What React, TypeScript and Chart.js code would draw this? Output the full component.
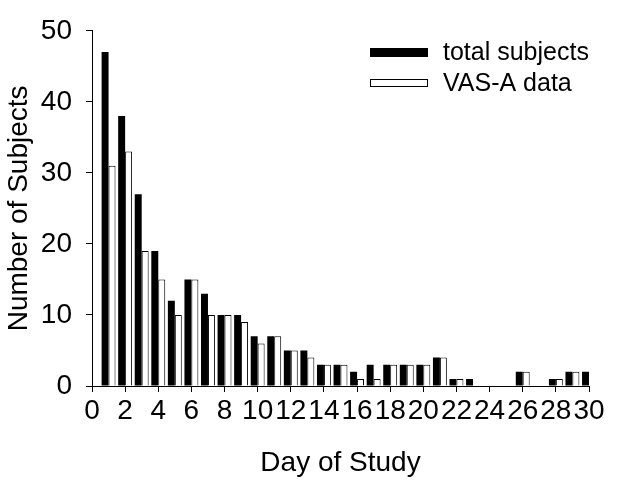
import React, { useEffect, useRef } from "react";
import { Chart, registerables } from "chart.js";

Chart.register(...registerables);

const days = [1, 2, 3, 4, 5, 6, 7, 8, 9, 10, 11, 12, 13, 14, 15, 16, 17, 18, 19, 20, 21, 22, 23, 24, 25, 26, 27, 28, 29, 30];
const totalSubjects = [47, 38, 27, 19, 12, 15, 13, 10, 10, 7, 7, 5, 5, 3, 3, 2, 3, 3, 3, 3, 4, 1, 1, 0, 0, 2, 0, 1, 2, 2];
const vasAData = [31, 33, 19, 15, 10, 15, 10, 10, 9, 6, 7, 5, 4, 3, 3, 1, 1, 3, 3, 3, 4, 1, 0, 0, 0, 2, 0, 1, 2, 0];
const seriesLabels = ["total subjects", "VAS-A data"];
const xTitle = "Day of Study";
const yTitle = "Number of Subjects";

const FONT = "'Liberation Sans', Arial, Helvetica, sans-serif";

const legendPlugin = {
  id: "customLegend",
  afterDraw(chart: any) {
    const ctx = chart.ctx;
    const boxX = 370;
    const boxW = 58;
    const rows = [
      { y: 52.5, h: 9 },
      { y: 83, h: 8 },
    ];
    ctx.save();
    ctx.font = `25px ${FONT}`;
    ctx.textBaseline = "middle";
    ctx.textAlign = "left";
    chart.data.datasets.forEach((ds: any, i: number) => {
      const r = rows[i];
      const top = r.y - r.h / 2;
      ctx.fillStyle = ds.backgroundColor;
      ctx.fillRect(boxX, top, boxW, r.h);
      if (ds.borderWidth) {
        ctx.strokeStyle = "#000";
        ctx.lineWidth = 1;
        ctx.strokeRect(boxX + 0.5, top + 0.5, boxW - 1, r.h - 1);
      }
      ctx.fillStyle = "#000";
      ctx.fillText(ds.label, 443, r.y + 1);
    });
    ctx.restore();
  },
};

export default function App() {
  const ref = useRef<HTMLCanvasElement | null>(null);

  useEffect(() => {
    document.body.style.margin = "0";
    const canvas = ref.current;
    if (!canvas) return;
    const chart = new Chart(canvas, {
      type: "bar",
      data: {
        datasets: [
          {
            label: seriesLabels[0],
            data: days.map((d, i) => ({ x: d, y: totalSubjects[i] })),
            backgroundColor: "#000000",
            borderWidth: 0,
            barPercentage: 1,
            categoryPercentage: 0.84,
          },
          {
            label: seriesLabels[1],
            data: days.map((d, i) => ({ x: d, y: vasAData[i] })),
            backgroundColor: "#ffffff",
            borderColor: "#000000",
            borderWidth: 1,
            borderSkipped: "start",
            barPercentage: 1,
            categoryPercentage: 0.84,
          },
        ],
      },
      options: {
        animation: false,
        responsive: false,
        maintainAspectRatio: false,
        layout: { padding: { top: 20, right: 40, left: 0, bottom: 0 } },
        plugins: {
          legend: { display: false },
          tooltip: { enabled: false },
        },
        scales: {
          x: {
            type: "linear",
            min: 0,
            max: 30,
            offset: false,
            grid: {
              offset: false,
              drawOnChartArea: false,
              drawTicks: true,
              tickLength: 6,
              color: "#000",
            },
            border: { color: "#000", width: 1 },
            ticks: {
              stepSize: 2,
              autoSkip: false,
              maxRotation: 0,
              padding: 2,
              color: "#000",
              font: { family: FONT, size: 28 },
            },
            title: {
              display: true,
              text: xTitle,
              color: "#000",
              font: { family: FONT, size: 28 },
              padding: { top: 0, bottom: 7 },
            },
            afterFit(scale: any) {
              scale.height = 101;
            },
          },
          y: {
            min: 0,
            max: 50,
            grid: {
              drawOnChartArea: false,
              drawTicks: true,
              tickLength: 6,
              color: "#000",
            },
            border: { color: "#000", width: 1 },
            ticks: {
              stepSize: 10,
              padding: 14,
              color: "#000",
              font: { family: FONT, size: 28 },
            },
            title: {
              display: true,
              text: yTitle,
              color: "#000",
              font: { family: FONT, size: 28 },
              padding: { top: 2, bottom: 0 },
            },
            afterFit(scale: any) {
              scale.width = 92;
            },
          },
        },
      },
      plugins: [legendPlugin],
    } as any);
    return () => chart.destroy();
  }, []);

  return <canvas ref={ref} width={629} height={487} style={{ display: "block" }} />;
}
